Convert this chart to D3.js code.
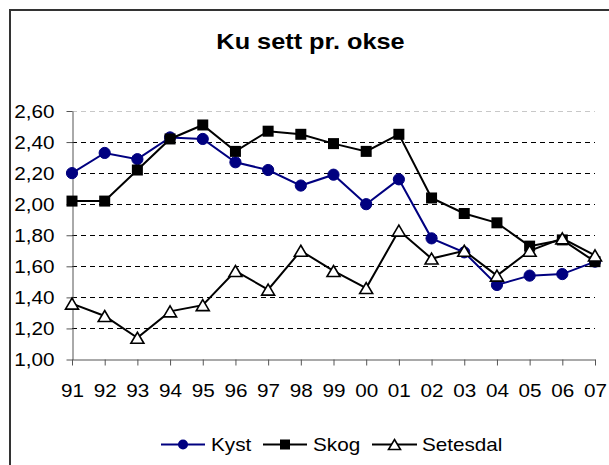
<!DOCTYPE html>
<html>
<head>
<meta charset="utf-8">
<script src="https://cdn.jsdelivr.net/npm/d3@7/dist/d3.min.js"></script>
<style>
  html, body { margin: 0; padding: 0; background: #fff; }
  svg { display: block; font-family: Arial, "Liberation Sans", sans-serif; }
</style>
</head>
<body>
<svg id="chart" width="609" height="465"></svg>
<script>
const title = "Ku sett pr. okse";
const years = ["91","92","93","94","95","96","97","98","99","00","01","02","03","04","05","06","07"];
const kyst     = [2.20, 2.33, 2.29, 2.43, 2.42, 2.27, 2.22, 2.12, 2.19, 2.00, 2.16, 1.78, 1.69, 1.48, 1.54, 1.55, 1.63];
const skog     = [2.02, 2.02, 2.22, 2.42, 2.51, 2.34, 2.47, 2.45, 2.39, 2.34, 2.45, 2.04, 1.94, 1.88, 1.73, 1.77, 1.63];
const setesdal = [1.36, 1.28, 1.14, 1.31, 1.35, 1.57, 1.45, 1.70, 1.57, 1.46, 1.83, 1.65, 1.70, 1.54, 1.70, 1.78, 1.67];
const seriesNames = ["Kyst", "Skog", "Setesdal"];
const yTicks = [1.0, 1.2, 1.4, 1.6, 1.8, 2.0, 2.2, 2.4, 2.6];

const SX = 1.15; // horizontal text stretch seen in the reference
const svg = d3.select("#chart");

// outer frame (only top and left edges visible)
svg.append("rect").attr("x", 10).attr("y", 10).attr("width", 640).attr("height", 500)
  .attr("fill", "#fff").attr("stroke", "#333").attr("stroke-width", 2);

const x = d3.scalePoint().domain(years).range([72, 595]);
const y = d3.scaleLinear().domain([1.0, 2.6]).range([359.5, 111]);

const nf = d3.formatLocale({decimal: ",", thousands: ".", grouping: [3], currency: ["", ""]}).format(".2f");

// gridlines
svg.append("g").selectAll("line").data(yTicks.filter(v => v > 1.0)).join("line")
  .attr("x1", 72).attr("x2", 595)
  .attr("y1", d => Math.round(y(d)) + 0.5).attr("y2", d => Math.round(y(d)) + 0.5)
  .attr("stroke", d => d === 2.6 ? "#c8c8c8" : "#000")
  .attr("stroke-width", 1)
  .attr("stroke-dasharray", "5,4");

// y axis
const yAxis = svg.append("g").attr("transform", "translate(72.5,0)")
  .call(d3.axisLeft(y).tickValues(yTicks).tickFormat(nf).tickSize(6).tickSizeOuter(0));
yAxis.select(".domain").attr("stroke", "#555");
yAxis.selectAll(".tick line").attr("stroke", "#555");
yAxis.selectAll(".tick text")
  .attr("x", -18 / SX).attr("dy", "0.34em")
  .attr("transform", `scale(${SX},1)`)
  .attr("font-size", 18).attr("fill", "#000")
  .attr("font-family", "Arial, 'Liberation Sans', sans-serif");

// x axis
const xAxis = svg.append("g").attr("transform", "translate(0,359.5)")
  .call(d3.axisBottom(x).tickSize(6).tickSizeOuter(0));
xAxis.select(".domain").attr("stroke", "#555");
xAxis.selectAll(".tick line").attr("stroke", "#555");
xAxis.selectAll(".tick text")
  .attr("y", 37.5).attr("dy", 0)
  .attr("transform", `scale(${SX},1)`)
  .attr("x", 0)
  .attr("font-size", 18).attr("fill", "#000")
  .attr("font-family", "Arial, 'Liberation Sans', sans-serif");
// keep label centred on tick despite scaling: tick group is translated, text scaled around 0 -> OK

// title
svg.append("text")
  .attr("transform", `translate(310.5,48.5) scale(${SX},1)`)
  .attr("text-anchor", "middle")
  .attr("font-size", 22).attr("font-weight", "bold")
  .text(title);

const line = d3.line().x((d, i) => x(years[i])).y(d => y(d));

function triPath(cx, cy, w, h) {
  return `M${cx},${cy - h / 2}L${cx + w / 2},${cy + h / 2}L${cx - w / 2},${cy + h / 2}Z`;
}

// Kyst
svg.append("path").datum(kyst).attr("d", line).attr("fill", "none")
  .attr("stroke", "#000080").attr("stroke-width", 2);
svg.append("g").selectAll("circle").data(kyst).join("circle")
  .attr("cx", (d, i) => x(years[i])).attr("cy", d => y(d)).attr("r", 5.6)
  .attr("fill", "#000080").attr("stroke", "#000080");

// Skog
svg.append("path").datum(skog).attr("d", line).attr("fill", "none")
  .attr("stroke", "#000").attr("stroke-width", 2);
svg.append("g").selectAll("rect").data(skog).join("rect")
  .attr("x", (d, i) => x(years[i]) - 5.5).attr("y", d => y(d) - 5.5)
  .attr("width", 11).attr("height", 11).attr("fill", "#000");

// Setesdal
svg.append("path").datum(setesdal).attr("d", line).attr("fill", "none")
  .attr("stroke", "#000").attr("stroke-width", 2);
svg.append("g").selectAll("path").data(setesdal).join("path")
  .attr("d", (d, i) => triPath(x(years[i]), y(d), 13, 11))
  .attr("fill", "#fff").attr("stroke", "#000").attr("stroke-width", 1.6);

// legend
const legendY = 444.5;
const legendItems = [
  {name: seriesNames[0], x1: 161, x2: 205, tx: 211, color: "#000080", mark: "circle"},
  {name: seriesNames[1], x1: 263, x2: 307, tx: 313, color: "#000", mark: "square"},
  {name: seriesNames[2], x1: 372, x2: 417, tx: 422, color: "#000", mark: "triangle"}
];
const lg = svg.append("g");
legendItems.forEach(it => {
  lg.append("line").attr("x1", it.x1).attr("x2", it.x2).attr("y1", legendY).attr("y2", legendY)
    .attr("stroke", it.color).attr("stroke-width", 2);
  const cx = (it.x1 + it.x2) / 2;
  if (it.mark === "circle") {
    lg.append("circle").attr("cx", cx).attr("cy", legendY).attr("r", 5).attr("fill", it.color);
  } else if (it.mark === "square") {
    lg.append("rect").attr("x", cx - 5).attr("y", legendY - 5).attr("width", 10).attr("height", 10).attr("fill", "#000");
  } else {
    lg.append("path").attr("d", triPath(cx, legendY, 12, 10)).attr("fill", "#fff")
      .attr("stroke", "#000").attr("stroke-width", 1.6);
  }
  lg.append("text")
    .attr("transform", `translate(${it.tx},${legendY + 6.5}) scale(${SX},1)`)
    .attr("font-size", 18).attr("fill", "#000")
    .text(it.name);
});
</script>
</body>
</html>
